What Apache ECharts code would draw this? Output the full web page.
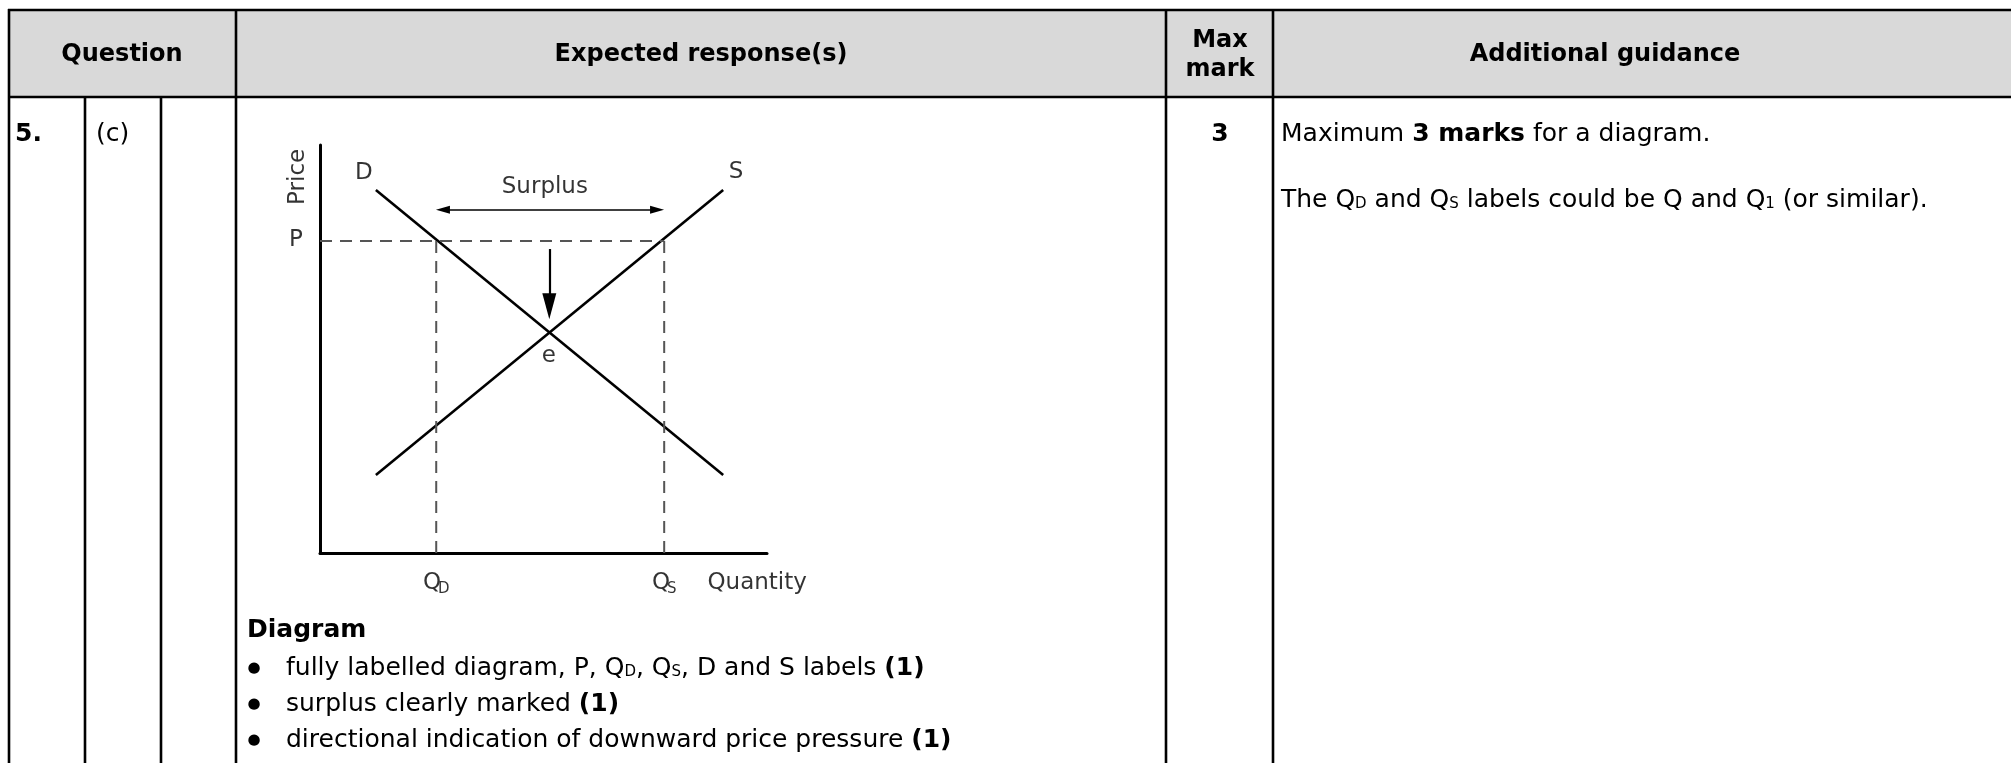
<!DOCTYPE html>
<html>
<head>
<meta charset="utf-8">
<script src="https://cdn.jsdelivr.net/npm/echarts@6/dist/echarts.min.js"></script>
<style>
html,body{margin:0;padding:0;background:#fff;}
#c{width:2011px;height:763px;}
</style>
</head>
<body>
<div id="c"></div>
<script>
// ---- data ----
const demandCurve = [[1.25, 8.9], [9.02, 1.91]];
const supplyCurve = [[1.25, 1.91], [9.02, 8.9]];
const priceP = 7.65;
const quantityD = 2.6;
const quantityS = 7.7;
const surplusArrow = [[2.75, 8.41], [7.54, 8.41]];
const pressureArrow = [[5.13, 7.45], [5.13, 6.05]];
const annotationText = ['D', 'S', 'Surplus', 'e', 'P', 'Price', '{q|Q}{s|D}', '{q|Q}{s|S}', 'Quantity'];
const annotationAt = [[0.98, 9.31], [9.31, 9.34], [5.03, 8.97], [5.12, 4.83], [-0.54, 7.67], [-0.49, 9.22], [2.6, -0.74], [7.7, -0.74], [9.78, -0.74]];
const headerLabels = ['Question', 'Expected response(s)', 'Max\nmark', 'Additional guidance'];
const rowLabels = ['5.', '(c)', '3'];

const FONT = '"DejaVu Sans", "Noto Sans", sans-serif';
const chart = echarts.init(document.getElementById('c'), null, {renderer: 'canvas'});

const LW = 2.6;
function hline(y, x1, x2) { return {type: 'line', shape: {x1: x1, y1: y, x2: x2, y2: y}, style: {stroke: '#000', lineWidth: LW}, z: 10}; }
function vline(x, y1, y2) { return {type: 'line', shape: {x1: x, y1: y1, x2: x, y2: y2}, style: {stroke: '#000', lineWidth: LW}, z: 10}; }
function txt(x, y, text, opt) {
  return Object.assign({type: 'text', x: x, y: y, z: 20, style: Object.assign({text: text, fill: '#000', font: '25px ' + FONT, align: 'left', verticalAlign: 'middle'}, opt || {})});
}
const subRich = {
  n: {fontSize: 25, fontFamily: FONT, fill: '#000'},
  b: {fontSize: 25, fontFamily: FONT, fontWeight: 'bold', fill: '#000'},
  s: {fontSize: 15, fontFamily: FONT, fill: '#000', padding: [9, 0, 0, 0]}
};

const graphic = [
  {type: 'rect', shape: {x: 9, y: 10, width: 2030, height: 87}, style: {fill: '#d9d9d9'}, z: 1},
  hline(10, 8, 2030),
  hline(97, 8, 2030),
  vline(9, 9, 780),
  vline(85, 97, 780),
  vline(161, 97, 780),
  vline(236, 9, 780),
  vline(1166, 9, 780),
  vline(1273, 9, 780),
  txt(122, 55, headerLabels[0], {font: 'bold 24px ' + FONT, align: 'center'}),
  txt(701, 55, headerLabels[1], {font: 'bold 24px ' + FONT, align: 'center'}),
  txt(1220, 55, headerLabels[2], {font: 'bold 24px ' + FONT, align: 'center', lineHeight: 29}),
  txt(1605, 55, headerLabels[3], {font: 'bold 24px ' + FONT, align: 'center'}),
  txt(15, 134, rowLabels[0], {font: 'bold 25px ' + FONT}),
  txt(96, 134, rowLabels[1]),
  txt(1220, 134, rowLabels[2], {font: 'bold 25px ' + FONT, align: 'center'}),
  txt(1281, 134, '{n|Maximum }{b|3 marks}{n| for a diagram.}', {rich: subRich}),
  txt(1281, 200, '{n|The Q}{s|D}{n| and Q}{s|S}{n| labels could be Q and Q}{s|1}{n| (or similar).}', {rich: subRich}),
  txt(247, 630, 'Diagram', {font: 'bold 25px ' + FONT}),
  txt(254, 668, '●', {font: '15px ' + FONT, align: 'center'}),
  txt(286, 668, '{n|fully labelled diagram, P, Q}{s|D}{n|, Q}{s|S}{n|, D and S labels }{b|(1)}', {rich: subRich}),
  txt(254, 704, '●', {font: '15px ' + FONT, align: 'center'}),
  txt(286, 704, '{n|surplus clearly marked }{b|(1)}', {rich: subRich}),
  txt(254, 740, '●', {font: '15px ' + FONT, align: 'center'}),
  txt(286, 740, '{n|directional indication of downward price pressure }{b|(1)}', {rich: subRich})
];

const annData = annotationAt.map(function (p, i) {
  const item = {value: p, label: {formatter: annotationText[i]}};
  if (annotationText[i] === 'Price') item.label.rotate = 90;
  return item;
});

const axisCommon = {
  type: 'value', min: 0, max: 10,
  axisLine: {show: true, onZero: false, lineStyle: {color: '#000', width: 3}},
  axisTick: {show: false}, axisLabel: {show: false}, splitLine: {show: false}
};

const dashStyle = {color: '#555', width: 2, type: [12, 8]};

chart.setOption({
  animation: false,
  graphic: graphic,
  grid: {left: 320, top: 145, width: 447, height: 408, containLabel: false},
  xAxis: axisCommon,
  yAxis: axisCommon,
  series: [
    {type: 'line', data: demandCurve, showSymbol: false, symbol: 'none', lineStyle: {color: '#000', width: 2.6}, clip: false},
    {type: 'line', data: supplyCurve, showSymbol: false, symbol: 'none', lineStyle: {color: '#000', width: 2.6}, clip: false},
    {type: 'line', data: [[0, priceP], [quantityS, priceP]], symbol: 'none', lineStyle: dashStyle},
    {type: 'line', data: [[quantityD, 0], [quantityD, priceP]], symbol: 'none', lineStyle: dashStyle},
    {type: 'line', data: [[quantityS, 0], [quantityS, priceP]], symbol: 'none', lineStyle: dashStyle},
    {type: 'lines', coordinateSystem: 'cartesian2d', symbol: ['triangle', 'triangle'], symbolSize: [[8, 14], [8, 14]],
      lineStyle: {color: '#000', width: 1.5, opacity: 1}, data: [{coords: surplusArrow}]},
    {type: 'lines', coordinateSystem: 'cartesian2d', symbol: ['none', 'triangle'], symbolSize: [[14, 26], [14, 26]],
      lineStyle: {color: '#000', width: 2.2, opacity: 1}, data: [{coords: pressureArrow}]},
    {type: 'scatter', data: annData, symbolSize: 0, clip: false, silent: true,
      label: {show: true, position: 'inside', color: '#000', fontSize: 23, fontFamily: FONT,
        rich: {q: {fontSize: 23, fontFamily: FONT, color: '#000'}, s: {fontSize: 15, fontFamily: FONT, color: '#000', padding: [12, 0, 0, -3]}}}}
  ]
});
</script>
</body>
</html>
